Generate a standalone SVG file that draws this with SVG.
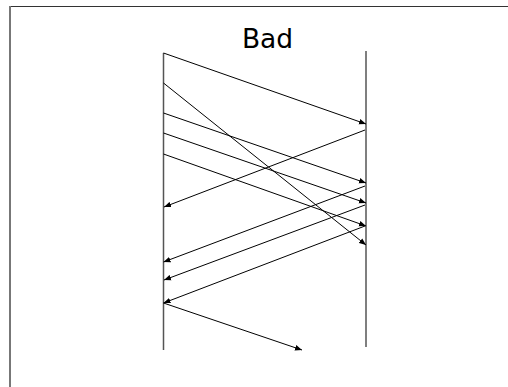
<svg xmlns="http://www.w3.org/2000/svg" width="508" height="387" viewBox="0 0 508 387">
<style>
.frame-top{stroke:#333;stroke-width:1}
.frame-left{stroke:#777;stroke-width:2}
.life{stroke:#555;stroke-width:1.5}
.msg{stroke:#000;stroke-width:1;fill:none;marker-end:url(#ah)}
.title{font-family:"DejaVu Sans","Open Sans",sans-serif;font-size:26.5px;fill:#000;text-anchor:middle}
</style>
<defs>
<marker id="ah" viewBox="0 0 10 10" refX="10" refY="5" markerWidth="7" markerHeight="7" markerUnits="userSpaceOnUse" orient="auto">
<path d="M0,1 L10,5 L0,9 z" fill="#000"/>
</marker>
</defs>
<line x1="9" y1="6.5" x2="508" y2="6.5" class="frame-top"/>
<line x1="10" y1="6" x2="10" y2="387" class="frame-left"/>
<text x="267.5" y="48" class="title">Bad</text>
<g id="lifeline-left"><line x1="163.5" y1="53" x2="163.5" y2="350" class="life"/></g>
<g id="lifeline-right"><line x1="366" y1="51" x2="366" y2="347" class="life"/></g>
<g id="connectors">
<line x1="163.5" y1="53" x2="366" y2="124" class="msg"/>
<line x1="163.5" y1="83" x2="366" y2="245" class="msg"/>
<line x1="163.5" y1="113" x2="366" y2="183" class="msg"/>
<line x1="163.5" y1="133" x2="366" y2="203" class="msg"/>
<line x1="163.5" y1="154" x2="366" y2="226" class="msg"/>
<line x1="365" y1="130" x2="164" y2="207" class="msg"/>
<line x1="365" y1="186" x2="163.5" y2="262" class="msg"/>
<line x1="365" y1="205" x2="164" y2="280" class="msg"/>
<line x1="365" y1="226" x2="163.5" y2="303" class="msg"/>
<line x1="163.5" y1="303" x2="302" y2="350" class="msg"/>
</g>
</svg>
